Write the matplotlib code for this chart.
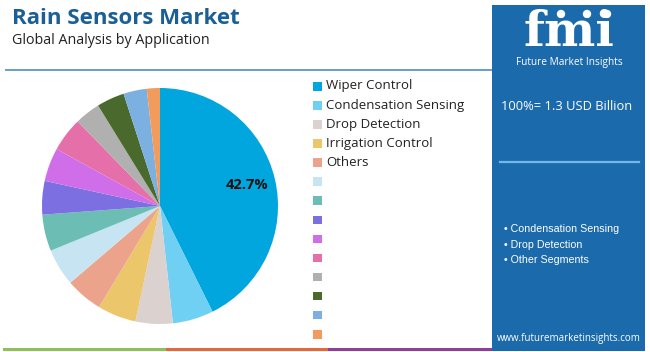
import matplotlib

matplotlib.use("Agg")
import matplotlib.pyplot as plt  # noqa: E402
from matplotlib.patches import Rectangle, Circle, Arc  # noqa: E402

# --- data -------------------------------------------------------------
labels = ["Wiper Control", "Condensation Sensing", "Drop Detection",
          "Irrigation Control", "Others", "", "", "", "", "", "", "", "", ""]
shares = [42.7, 5.6, 5.1, 5.3, 5.1, 5.1, 5.0, 4.6, 4.6, 4.7, 3.5, 3.8, 3.2, 1.8]
colors = ["#00a6dd", "#6fd0f3", "#dbd1cf", "#ecc66a", "#eca38c", "#c6e4f2",
          "#6cbdb4", "#7c6fe1", "#d06ee9", "#e56fa8", "#b0b0b0", "#4a6a2d",
          "#7bb0e1", "#f19b5c"]
market_size = "100%= 1.3 USD Billion"
bullets = ["Condensation Sensing", "Drop Detection", "Other Segments"]

PANEL = "#1b6aab"
W, H = 650, 352

fig = plt.figure(figsize=(6.5, 3.52), dpi=100)

# background axes in pixel coords (y down)
bg = fig.add_axes([0, 0, 1, 1])
bg.set_xlim(0, W)
bg.set_ylim(H, 0)
bg.axis("off")

bg.text(12, 18, "Rain Sensors Market", fontsize=16, fontweight="bold",
        color="#1a5f96", family="Open Sans", va="center", ha="left")
bg.text(12, 40, "Global Analysis by Application", fontsize=10.3,
        color="#222222", family="Open Sans", va="center", ha="left")
bg.plot([5, 492], [69.5, 69.5], color="#4f8fc0", lw=1.2,
        solid_capstyle="butt")

# bottom stripe
for x0, x1, c in [(3, 166, "#8dc05a"), (166, 328, "#e3683c"),
                  (328, 492, "#8e3f96")]:
    bg.add_patch(Rectangle((x0, 347.5), x1 - x0, 3, color=c, lw=0))

# right panel
bg.add_patch(Rectangle((492, 5), 153, 346, color=PANEL, lw=0))
bg.text(569, 46, "fmi", fontsize=35, fontweight="bold", color="white",
        family="DejaVu Serif", ha="center", va="baseline")
for yy in range(18, 49, 3):
    bg.plot([514, 626], [yy, yy], color=PANEL, lw=0.6)
for cxx in (561, 587, 607):
    bg.add_patch(Circle((cxx, 14), 4.2, color="white", lw=0))
bg.add_patch(Arc((585, 4), 70, 30, theta1=200, theta2=340,
                 color="white", lw=1.2))
bg.text(569, 62, "Future Market Insights", fontsize=7.3, color="white",
        family="Open Sans", ha="center", va="center")
bg.text(567, 107, market_size, fontsize=9.3, color="white",
        family="Open Sans", ha="center", va="center")
bg.plot([500, 639], [162, 162], color="#6fb8e8", lw=1.6)
for i, b in enumerate(bullets):
    bg.text(504, 229 + i * 15.5, "\u2022 " + b, fontsize=7.7, color="white",
            family="Liberation Sans", ha="left", va="center")
bg.text(569, 338, "www.futuremarketinsights.com", fontsize=7, color="white",
        family="Open Sans", ha="center", va="center")

# legend
for i, (lab, c) in enumerate(zip(labels, colors)):
    y = 86 + i * 19.08
    bg.add_patch(Rectangle((313, y - 4), 8.5, 8.5, color=c, lw=0))
    if lab:
        bg.text(326, y, lab, fontsize=9.5, color="#222222",
                family="Open Sans", ha="left", va="center")

# pie
cx, cy, r = 160, 206, 118
pax = fig.add_axes([(cx - r) / W, (H - cy - r) / H, 2 * r / W, 2 * r / H])
pax.patch.set_alpha(0)
first = shares[0]
pax.pie(shares, colors=colors, startangle=90, counterclock=False,
        wedgeprops=dict(linewidth=0), pctdistance=0.76,
        autopct=lambda p: f"{first}%" if abs(p - first) < 0.5 else "",
        textprops=dict(fontsize=10.5, fontweight="bold", color="#111111",
                       family="Open Sans"))
pax.set_xlim(-1, 1)
pax.set_ylim(-1, 1)
pax.set_aspect("equal")

fig.savefig("out.png", dpi=100)
